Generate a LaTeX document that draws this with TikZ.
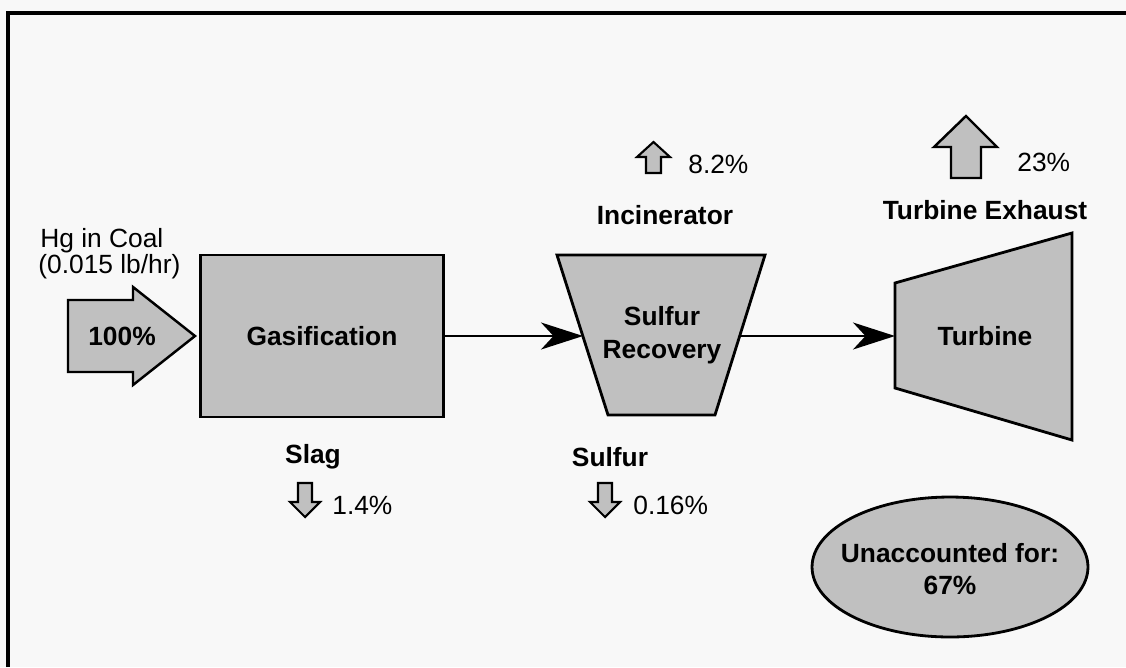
\documentclass[tikz,border=0pt]{standalone}
\usepackage{fontspec}
\setmainfont{Liberation Sans}
\usepackage{tikz}
\usetikzlibrary{arrows.meta, shapes.geometric, positioning}

\definecolor{fillgray}{RGB}{192,192,192}
\definecolor{paper}{RGB}{248,248,248}

\tikzset{
    block/.style={draw=black, fill=fillgray, line width=1.6pt, line join=miter},
    blockarrow/.style={draw=black, fill=fillgray, line width=1.4pt, line join=miter},
    flowline/.style={line width=1.2pt, -{Stealth[length=0.84cm, width=0.54cm, inset=0.25cm]}},
    lbl/.style={font=\fontsize{15}{19}\selectfont, inner sep=0pt},
    blbl/.style={font=\fontsize{15}{19}\selectfont\bfseries, inner sep=0pt, align=center}
}

\begin{document}
\begin{tikzpicture}[x=0.02cm, y=-0.02cm]
    % page and frame
    \fill[paper] (0,0) rectangle (1126,667);
    \useasboundingbox (0,0) rectangle (1126,667);
    \draw[line width=1.8pt] (8,667) -- (8,13) -- (1126,13);

    % feed
    \node[lbl, anchor=west] (feed) at (40,241) {Hg in Coal};
    \node[lbl, anchor=west] (feedrate) at (38,267) {(0.015 lb/hr)};
    \draw[blockarrow] (68,300) -- (133,300) -- (133,287) -- (195,336) -- (133,385) -- (133,372) -- (68,372) -- cycle;
    \node[blbl] (feedpct) at (122,336) {100\%};

    % Gasification
    \node[block, minimum width=4.86cm, minimum height=3.24cm, blbl] (gasif) at (322,336) {Gasification};
    \node[blbl] (slag) at (313,457) {Slag};
    \draw[blockarrow, line width=1.2pt] (298,483) -- (312,483) -- (312,502) -- (320,502) -- (305,517) -- (290,502) -- (298,502) -- cycle;
    \node[lbl, anchor=west] (slagpct) at (332,505) {1.4\%};

    % Sulfur recovery
    \draw[block] (557,255) -- (765,255) -- (715,415) -- (608,415) -- cycle;
    \node[blbl] (sulfrec) at (662,335) {Sulfur\\Recovery};
    \coordinate (sulfin) at (583,336);
    \coordinate (sulfout) at (740,336);
    \node[blbl] (incin) at (665,215) {Incinerator};
    \draw[blockarrow, line width=1.2pt] (646,173) -- (661,173) -- (661,157) -- (670,157) -- (653.5,142) -- (637,157) -- (646,157) -- cycle;
    \node[lbl, anchor=west] (incinpct) at (688,164) {8.2\%};
    \node[blbl] (sulfur) at (610,457) {Sulfur};
    \draw[blockarrow, line width=1.2pt] (598,483) -- (612,483) -- (612,502) -- (620,502) -- (605,517) -- (590,502) -- (598,502) -- cycle;
    \node[lbl, anchor=west] (sulfpct) at (633,505) {0.16\%};

    % Turbine
    \draw[block] (895,283) -- (1072,233) -- (1072,440) -- (895,388) -- cycle;
    \node[blbl] (turb) at (985,336) {Turbine};
    \coordinate (turbin) at (895,336);
    \node[blbl] (exhaust) at (985,210) {Turbine Exhaust};
    \draw[blockarrow] (951,178) -- (981,178) -- (981,147) -- (997,147) -- (966,116) -- (934,147) -- (951,147) -- cycle;
    \node[lbl, anchor=west] (exhpct) at (1017,162) {23\%};

    % unaccounted
    \draw[block] (950,567) ellipse [x radius=2.76cm, y radius=1.4cm];
    \node[blbl, font=\fontsize{15}{18}\selectfont\bfseries] (lost) at (950,569) {Unaccounted for:\\67\%};

    % connectors
    \draw[flowline] (gasif.east) -- (sulfin);
    \draw[flowline] (sulfout) -- (turbin);
\end{tikzpicture}
\end{document}
